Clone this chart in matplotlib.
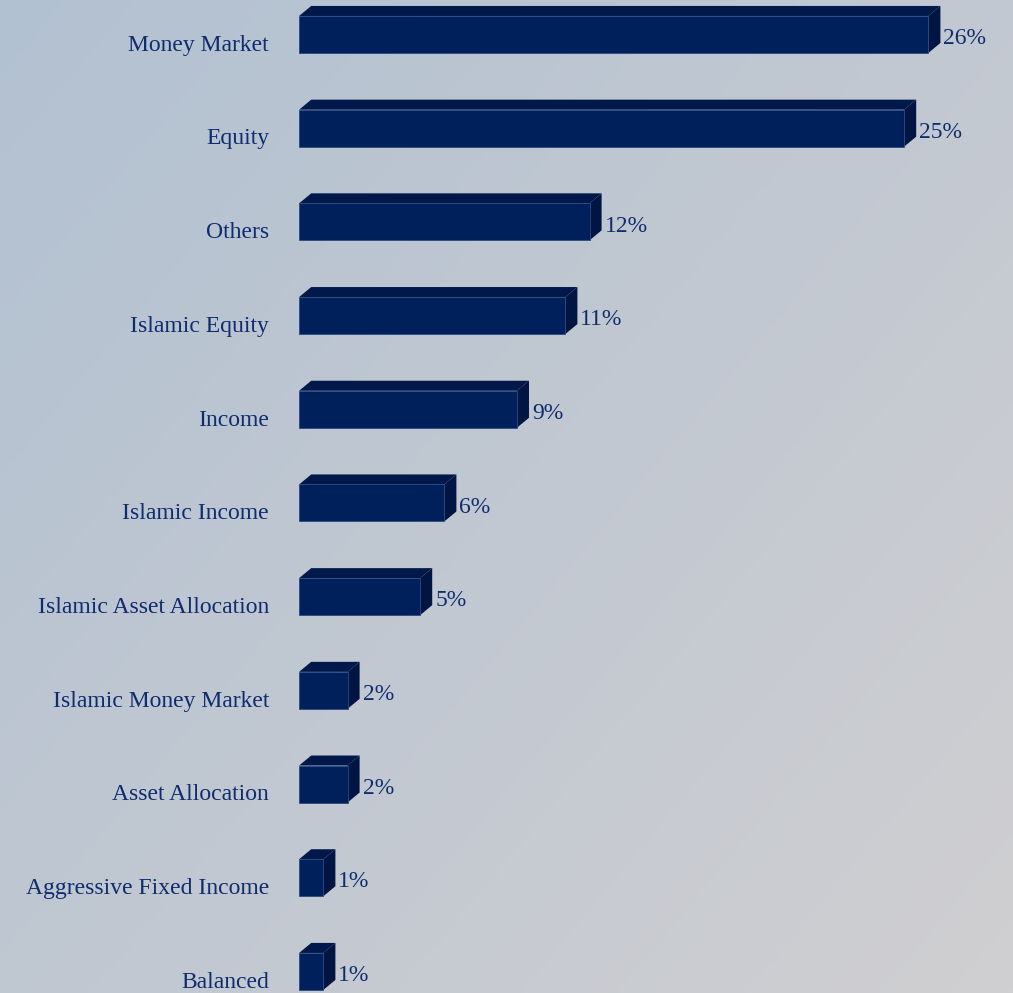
"""
Fund category split: horizontal 3D-style bars on a soft gradient background.
"""

import matplotlib

matplotlib.use("Agg")
import matplotlib.pyplot as plt
import numpy as np
from matplotlib.patches import Polygon

categories = [
    "Money Market",
    "Equity",
    "Others",
    "Islamic Equity",
    "Income",
    "Islamic Income",
    "Islamic Asset Allocation",
    "Islamic Money Market",
    "Asset Allocation",
    "Aggressive Fixed Income",
    "Balanced",
]
shares = [26, 25, 12, 11, 9, 6, 5, 2, 2, 1, 1]
value_labels = ["26%", "25%", "12%", "11%", "9%", "6%", "5%", "2%", "2%", "1%", "1%"]

FRONT = "#00205b"
TOP = "#00194a"
SIDE = "#001542"
EDGE = "#2b4a85"
TEXT = "#0f2c6e"


def main():
    fig = plt.figure(figsize=(10.13, 9.93), dpi=100)

    # diagonal gradient background
    bg = fig.add_axes([0, 0, 1, 1])
    gx, gy = np.meshgrid(np.linspace(0, 1, 256), np.linspace(0, 1, 256))
    t = (gx * 0.55 + gy * 0.45)
    c0 = np.array([178, 193, 210]) / 255
    c1 = np.array([208, 207, 209]) / 255
    img = c0[None, None, :] * (1 - t[..., None]) + c1[None, None, :] * t[..., None]
    bg.imshow(img, extent=[0, 1, 1, 0], aspect="auto", origin="upper")
    bg.axis("off")

    ax = fig.add_axes([0, 0, 1, 1])
    ax.patch.set_alpha(0)
    ax.set_xlim(-12.36, 29.5)
    ax.set_ylim(10.23, -0.368)
    ax.axis("off")

    ypos = np.arange(len(categories))
    h = 0.395
    dx = 0.5     # depth in % units
    dy = 0.107   # depth in row units

    ax.barh(ypos, shares, height=h, left=0, color=FRONT, edgecolor=EDGE,
            linewidth=0.6, zorder=3)

    for y, v, lab, cat in zip(ypos, shares, value_labels, categories):
        top = y - h / 2
        bot = y + h / 2
        ax.add_patch(Polygon([(0, top), (v, top), (v + dx, top - dy), (dx, top - dy)],
                             closed=True, facecolor=TOP, edgecolor="none", zorder=2))
        ax.add_patch(Polygon([(v, top), (v + dx, top - dy), (v + dx, bot - dy), (v, bot)],
                             closed=True, facecolor=SIDE, edgecolor="none", zorder=2))
        ax.text(v + dx + 0.12, y + 0.045, lab, ha="left", va="center",
                fontsize=17, color=TEXT, family="Liberation Serif")
        ax.text(-1.24, y + 0.115, cat, ha="right", va="center",
                fontsize=17, color=TEXT, family="Liberation Serif")

    fig.savefig("out.png", dpi=100)
    plt.close(fig)


if __name__ == "__main__":
    main()
